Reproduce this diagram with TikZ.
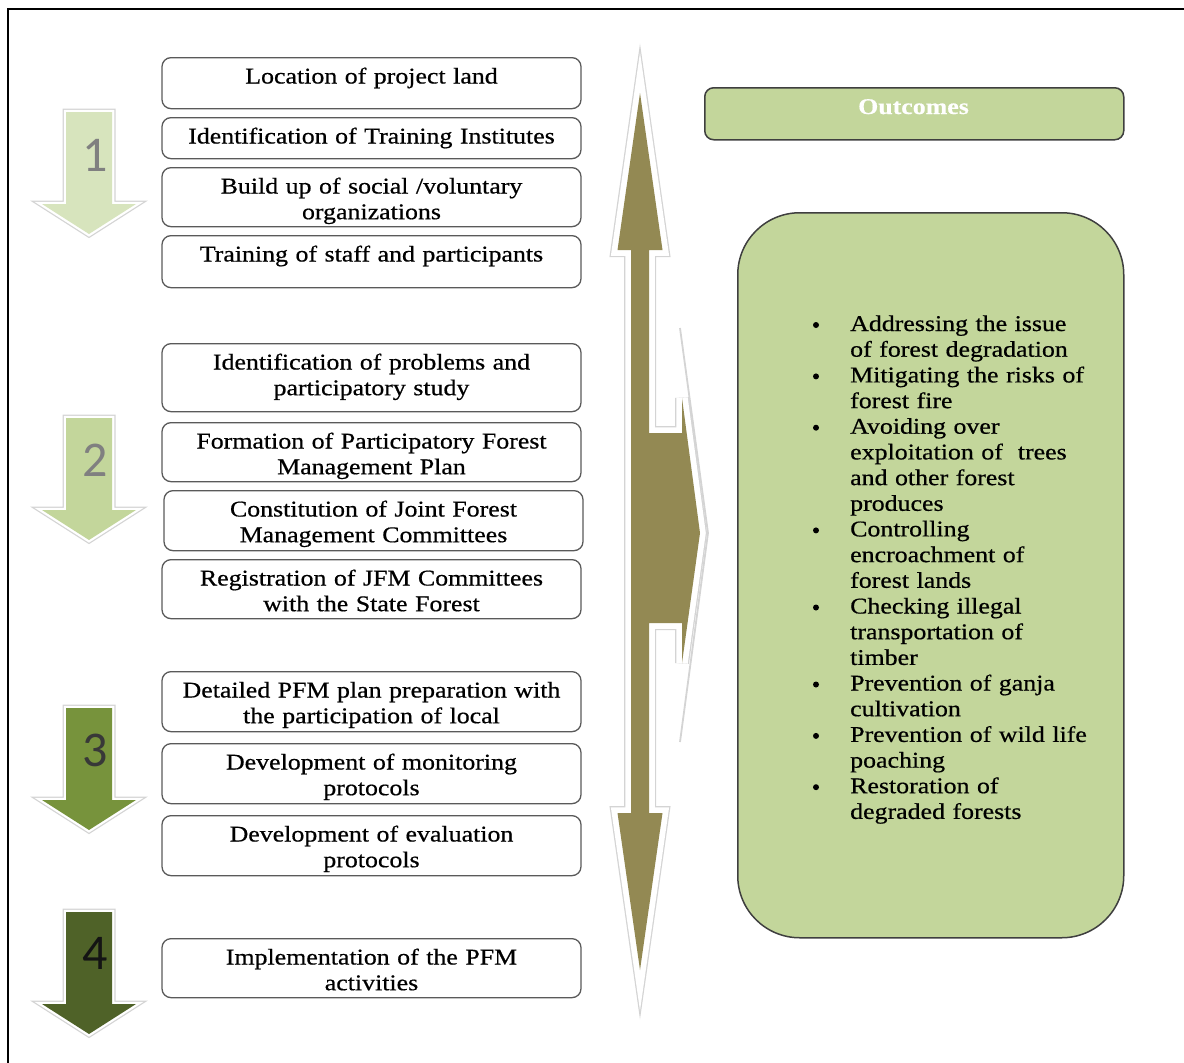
\documentclass[tikz,border=0pt]{standalone}
\usepackage{fontspec}
\setmainfont{Liberation Serif}[FakeStretch=1.15,FakeBold=0.6]
\newfontfamily\numfont{Carlito}
\usetikzlibrary{calc}

\definecolor{boxgray}{HTML}{5A5A5A}
\definecolor{edgegray}{HTML}{3F3F3F}
\definecolor{olivefill}{HTML}{938953}
\definecolor{leafgreen}{HTML}{C3D69B}
\definecolor{palegreen}{HTML}{D7E4BD}
\definecolor{softgreen}{HTML}{C3D69B}
\definecolor{midgreen}{HTML}{77933C}
\definecolor{darkgreen}{HTML}{4F6228}
\definecolor{glowgray}{HTML}{D4D4D4}

\tikzset{
  stepframe/.style={draw=boxgray, line width=1.3pt, rounded corners=9pt,
    fill=white, inner sep=0pt, minimum width=419pt},
  steptext/.style={font=\fontsize{22.5}{25.7}\selectfont, text width=412pt,
    align=center, inner sep=0pt},
  listtext/.style={font=\fontsize{22.5}{25.7}\selectfont, text width=275pt,
    align=left, inner sep=0pt, anchor=base west},
  dot/.style={circle, fill=black, inner sep=0pt, minimum size=6pt},
  glowshape/.style={line join=miter,
    preaction={draw=glowgray, line width=#1},
    preaction={draw=white, line width=#1-2.5pt}},
  stagenum/.style={font=\numfont\fontsize{50}{50}\selectfont, inner sep=0pt},
}

% one step box of the left column: name, x centre, top, bottom, text
\newcommand\stepitem[5]{%
  \node[stepframe, minimum height={#4-#3}, anchor=north] (#1) at (#2,#3) {};
  \begin{scope}
    \clip[rounded corners=9pt] (#1.north west) rectangle (#1.south east);
    \node[steptext, anchor=base] (#1-txt) at (#2,{#3+26.5}) {#5};
  \end{scope}}

% one numbered stage arrow: name, top, fill colour, digit colour, digit, digit y
\newcommand\stagearrow[6]{%
  \path[glowshape=7pt, fill=#3]
    (66,#2) -- (112,#2) -- (112,{#2+92}) -- (136,{#2+92}) -- (89,{#2+122})
    -- (42,{#2+92}) -- (66,{#2+92}) -- cycle;
  \node[stagenum, text=#4] (#1) at (95,#6) {#5};}

\begin{document}
\begin{tikzpicture}[x=1pt,y=-1pt]
\useasboundingbox (0,0) rectangle (1184,1063);

% outer frame
\draw[line width=2pt] (1184,9) -- (8,9) -- (8,1063);

% stage arrows
\stagearrow{n1}{112}{palegreen}{black!50}{1}{155}
\stagearrow{n2}{418}{softgreen}{black!50}{2}{460}
\stagearrow{n3}{708}{midgreen}{black!78}{3}{750}
\stagearrow{n4}{912}{darkgreen}{black!92}{4}{953}

% step boxes
\stepitem{s1}{371.5}{57}{108}{Location of project land}
\stepitem{s2}{371.5}{117}{158}{Identification of Training Institutes}
\stepitem{s3}{371.5}{167}{226}{Build up of social /voluntary\\organizations}
\stepitem{s4}{371.5}{235}{287}{Training of staff and participants}
\stepitem{s5}{371.5}{343}{411}{Identification of problems and\\participatory study}
\stepitem{s6}{371.5}{422}{481}{Formation of Participatory Forest\\Management Plan}
\stepitem{s7}{373.5}{490}{550}{Constitution of Joint Forest\\Management Committees}
\stepitem{s8}{371.5}{559}{618}{Registration of JFM Committees\\with the State Forest}
\stepitem{s9}{371.5}{671}{731}{Detailed PFM plan preparation with\\the participation of local}
\stepitem{s10}{371.5}{743}{803}{Development of monitoring\\protocols}
\stepitem{s11}{371.5}{815}{875}{Development of evaluation\\protocols}
\stepitem{s12}{371.5}{938}{997}{Implementation of the PFM\\activities}

% halo behind the right-pointing head of the central arrow
\path[fill=white] (649,330) -- (680,330) -- (708,533) -- (680,740)
  -- (649,740) -- cycle;
\draw[glowgray, line width=1.8pt] (680,328) -- (708,533) -- (680,742);

% central up-down-right arrow
\path[glowshape=14pt, fill=olivefill]
  (640,93) -- (662.5,250) -- (649,250) -- (649,433) -- (682,433) -- (682,398)
  -- (700,533) -- (682,663) -- (682,623) -- (649,623) -- (649,813)
  -- (662.5,813) -- (640,970) -- (617.5,813) -- (631,813) -- (631,250)
  -- (617.5,250) -- cycle;

% outcomes heading
\node[draw=edgegray, line width=1.5pt, fill=leafgreen, rounded corners=9pt,
  minimum width=419pt, minimum height=52pt, inner sep=0pt, anchor=north west]
  (outhead) at (704,87) {};
\node[font=\fontsize{22.5}{25.7}\selectfont\bfseries, text=white, inner sep=0pt,
  anchor=base] (outhead-txt) at (913.5,114) {Outcomes};

% outcomes list
\node[draw=edgegray, line width=1.5pt, fill=leafgreen, rounded corners=62pt,
  minimum width=386pt, minimum height=725pt, inner sep=0pt, anchor=north west]
  (outbox) at (737,212) {};

\node[dot] (d1) at (816,325.0) {};
\node[listtext] (o1) at (850,331.0) {Addressing the issue\\of forest degradation};
\node[dot] (d2) at (816,376.4) {};
\node[listtext] (o2) at (850,382.4) {Mitigating the risks of\\forest fire};
\node[dot] (d3) at (816,427.7) {};
\node[listtext] (o3) at (850,433.7) {Avoiding over\\exploitation of~ trees\\and other forest\\produces};
\node[dot] (d4) at (816,530.4) {};
\node[listtext] (o4) at (850,536.4) {Controlling\\encroachment of\\forest lands};
\node[dot] (d5) at (816,607.5) {};
\node[listtext] (o5) at (850,613.5) {Checking illegal\\transportation of\\timber};
\node[dot] (d6) at (816,684.5) {};
\node[listtext] (o6) at (850,690.5) {Prevention of ganja\\cultivation};
\node[dot] (d7) at (816,735.9) {};
\node[listtext] (o7) at (850,741.9) {Prevention of wild life\\poaching};
\node[dot] (d8) at (816,787.2) {};
\node[listtext] (o8) at (850,793.2) {Restoration of\\degraded forests};
\end{tikzpicture}
\end{document}
